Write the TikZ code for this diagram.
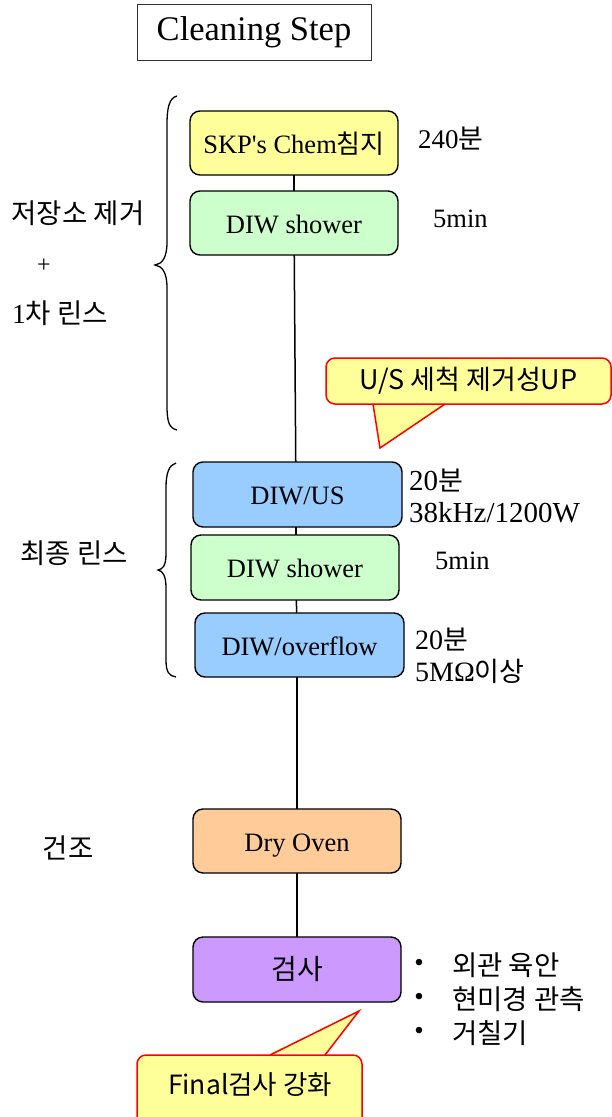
\documentclass[tikz,border=0pt]{standalone}
\usepackage{fontspec}
\setmainfont{Liberation Serif}[Ligatures=TeXOff]
\newfontfamily\kr{Noto Sans CJK KR}
\definecolor{cyellow}{HTML}{FFFF99}
\definecolor{cgreen}{HTML}{CCFFCC}
\definecolor{cblue}{HTML}{99CCFF}
\definecolor{corange}{HTML}{FFCC99}
\definecolor{cpurple}{HTML}{CC99FF}
\definecolor{cred}{HTML}{FF0000}
\tikzset{
  stepbox/.style={draw=black, line width=1.4pt, rounded corners=10pt, inner sep=0pt,
    minimum width=208pt, minimum height=64pt, text height=22pt, text depth=2pt,
    font=\fontsize{26.5}{30}\selectfont},
  sidelbl/.style={inner sep=0pt, font=\fontsize{27.5}{30}\selectfont\kr},
  notelbl/.style={inner sep=0pt, anchor=west, align=left, font=\fontsize{27}{32}\selectfont},
  conn/.style={draw=black, line width=1.5pt},
  callout/.style={draw=cred, fill=cyellow, line width=1.5pt, rounded corners=9pt, inner sep=0pt,
    font=\fontsize{27}{30}\selectfont\kr},
  bracestyle/.style={draw=black, line width=1.3pt},
  bul/.style={inner sep=0pt, font=\fontsize{27}{28}\selectfont},
}
\begin{document}
\begin{tikzpicture}[x=1pt, y=-1pt]
\useasboundingbox (0,0) rectangle (612,1117);
\clip (0,0) rectangle (612,1117);

% title
\node[draw=black!80, line width=1pt, minimum width=234pt, minimum height=56pt, inner sep=0pt,
  font=\fontsize{34.5}{38}\selectfont] (title) at (254,32.5) {Cleaning Step};

% connectors (behind boxes)
\coordinate (c1) at (294,143);
\coordinate (c2) at (294,223);
\coordinate (c3) at (296,494.5);
\coordinate (c4) at (296,567.5);
\coordinate (c5) at (297,645);
\coordinate (c6) at (297,841);
\coordinate (c7) at (297,969.5);
\draw[conn] (c1) -- (c2);
\draw[conn] (c2) -- (c3);
\draw[conn] (c3) -- (c4);
\draw[conn] (c4) -- (c5);
\draw[conn] (c5) -- (c6);
\draw[conn] (c6) -- (c7);

% boxes
\node[stepbox, fill=cyellow] (skp) at (294,143) {SKP's Chem{\kr\fontsize{26}{30}\selectfont 침지}};
\node[stepbox, fill=cgreen] (sh1) at (294,223) {DIW shower};
\node[stepbox, fill=cblue, minimum width=209pt, minimum height=65pt] (us) at (297.5,494.5) {DIW/US};
\node[stepbox, fill=cgreen, minimum height=65pt] (sh2) at (295,567.5) {DIW shower};
\node[stepbox, fill=cblue, minimum width=209pt] (ov) at (299.5,645) {DIW/overflow};
\node[stepbox, fill=corange] (dry) at (297,841) {Dry Oven};
\node[stepbox, fill=cpurple, minimum height=65pt] (insp) at (297,969.5) {{\kr\fontsize{28}{30}\selectfont 검사}};

% notes on the right
\node[notelbl] (n1) at (418,139) {240{\kr\fontsize{27}{30}\selectfont 분}};
\node[notelbl, font=\fontsize{26.5}{30}\selectfont] (n2) at (433,219) {5min};
\node[notelbl, font=\fontsize{29}{32}\selectfont] (n3) at (409,496) {20{\kr\fontsize{27}{30}\selectfont 분}\\38kHz/1200W};
\node[notelbl, font=\fontsize{26.5}{30}\selectfont] (n4) at (435,561) {5min};
\node[notelbl, font=\fontsize{28}{32}\selectfont] (n5) at (415,656) {20{\kr\fontsize{27}{30}\selectfont 분}\\5M\char"03A9{\kr\fontsize{27}{30}\selectfont 이상}};

% left labels
\node[sidelbl] (l1) at (78,213) {저장소 제거};
\node[inner sep=0pt, font=\fontsize{24}{26}\selectfont] (l2) at (44,266) {+};
\node[sidelbl, anchor=west] (l3) at (12,313) {{\rmfamily 1}차 린스};
\node[sidelbl] (l4) at (74,553) {최종 린스};
\node[sidelbl] (l5) at (68,848) {건조};

% braces
\draw[bracestyle] (177,96) .. controls (169,98) and (167,108) .. (167,125)
  -- (167,242) .. controls (167,258) and (162,264) .. (155,265)
  .. controls (162,266) and (167,272) .. (167,288)
  -- (167,405) .. controls (167,422) and (169,428) .. (177,430);
\draw[bracestyle] (176,463) .. controls (169,465) and (166,473) .. (166,488)
  -- (166,553) .. controls (166,566) and (163,569) .. (158,570)
  .. controls (163,571) and (166,576) .. (166,588)
  -- (166,660) .. controls (166,672) and (169,676) .. (176,677);

% bullets
\node[bul] (b1) at (419,965) {\char"2022};
\node[bul] (b2) at (419,999) {\char"2022};
\node[bul] (b3) at (419,1033) {\char"2022};
\node[sidelbl, anchor=west] (t1) at (452,965) {외관 육안};
\node[sidelbl, anchor=west] (t2) at (452,999) {현미경 관측};
\node[sidelbl, anchor=west] (t3) at (452,1033) {거칠기};

% callout 1
\node[callout, minimum width=285pt, minimum height=46pt] (co1) at (468.5,381) {U/S 세척 제거성UP};
\coordinate (p1a) at (373,404);
\coordinate (p1b) at (445,404);
\coordinate (p1t) at (380,448);
\fill[cyellow] ([yshift=-1.6pt]p1a) -- (p1t) -- ([yshift=-1.6pt]p1b) -- cycle;
\draw[cred, line width=1.5pt, line join=miter] (p1a) -- (p1t) -- (p1b);

% callout 2
\node[callout, minimum width=225pt, minimum height=80pt] (co2) at (249.5,1095) {};
\node[inner sep=0pt, font=\fontsize{26.5}{30}\selectfont\kr] (co2t) at (250,1085) {Final검사 강화};
\coordinate (p2a) at (270,1055);
\coordinate (p2b) at (325,1055);
\coordinate (p2t) at (359,1011);
\fill[cyellow] ([yshift=1.6pt]p2a) -- (p2t) -- ([yshift=1.6pt]p2b) -- cycle;
\draw[cred, line width=1.5pt, line join=miter] (p2a) -- (p2t) -- (p2b);
\end{tikzpicture}
\end{document}
